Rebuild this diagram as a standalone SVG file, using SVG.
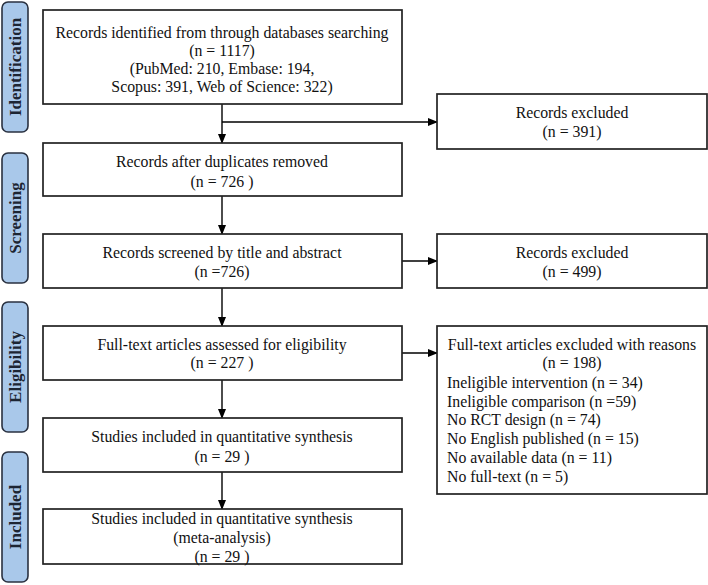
<svg xmlns="http://www.w3.org/2000/svg" width="708" height="585" viewBox="0 0 708 585">
<defs>
<marker id="ah" markerWidth="10" markerHeight="8" refX="9" refY="4" orient="auto" markerUnits="userSpaceOnUse">
<path d="M0,0 L10,4 L0,8 Z" fill="#000"/>
</marker>
<style>
.box{fill:#fff;stroke:#222;stroke-width:1.7}
.stage{fill:#a9c8ea;stroke:#2a3140;stroke-width:1.6}
.t{font-family:"Liberation Serif","Times New Roman",serif;font-size:15.8px;fill:#111}
.c{text-anchor:middle}
.st{font-family:"Liberation Serif","Times New Roman",serif;font-size:17px;font-weight:bold;fill:#1d2533;text-anchor:middle}
.ln{stroke:#000;stroke-width:1.4;fill:none}
</style>
</defs>
<rect width="708" height="585" fill="#fff"/>
<g id="stage-identification"><rect class="stage" x="2" y="2" width="26" height="130" rx="6"/><text class="st" transform="translate(21,67) rotate(-90)">Identification</text></g>
<g id="stage-screening"><rect class="stage" x="2" y="153" width="26" height="130" rx="6"/><text class="st" transform="translate(21,218) rotate(-90)">Screening</text></g>
<g id="stage-eligibility"><rect class="stage" x="2" y="302" width="26" height="130" rx="6"/><text class="st" transform="translate(21,367) rotate(-90)">Eligibility</text></g>
<g id="stage-included"><rect class="stage" x="2" y="452" width="26" height="130" rx="6"/><text class="st" transform="translate(21,517) rotate(-90)">Included</text></g>

<g id="connectors">
<line class="ln" x1="222" y1="104" x2="222" y2="143" marker-end="url(#ah)"/>
<line class="ln" x1="222" y1="122" x2="437" y2="122" marker-end="url(#ah)"/>
<line class="ln" x1="222" y1="196" x2="222" y2="234" marker-end="url(#ah)"/>
<line class="ln" x1="402" y1="261" x2="437" y2="261" marker-end="url(#ah)"/>
<line class="ln" x1="222" y1="288" x2="222" y2="326" marker-end="url(#ah)"/>
<line class="ln" x1="402" y1="353" x2="437" y2="353" marker-end="url(#ah)"/>
<line class="ln" x1="222" y1="380" x2="222" y2="418" marker-end="url(#ah)"/>
<line class="ln" x1="222" y1="472" x2="222" y2="509" marker-end="url(#ah)"/>
</g>

<g id="n-identified"><rect class="box" x="43" y="10" width="359" height="94"/>
<text class="t c" x="222" y="38">Records identified from through databases searching</text>
<text class="t c" x="222" y="56">(n = 1117)</text>
<text class="t c" x="222" y="74">(PubMed: 210, Embase: 194,</text>
<text class="t c" x="222" y="92">Scopus: 391, Web of Science: 322)</text></g>

<g id="n-excluded1"><rect class="box" x="437" y="94" width="270" height="55"/>
<text class="t c" x="572" y="118">Records excluded</text>
<text class="t c" x="572" y="137">(n = 391)</text></g>

<g id="n-duplicates"><rect class="box" x="43" y="143" width="359" height="53"/>
<text class="t c" x="222" y="167">Records after duplicates removed</text>
<text class="t c" x="222" y="187">(n = 726 )</text></g>

<g id="n-screened"><rect class="box" x="43" y="234" width="359" height="54"/>
<text class="t c" x="222" y="258">Records screened by title and abstract</text>
<text class="t c" x="222" y="277">(n =726)</text></g>

<g id="n-excluded2"><rect class="box" x="437" y="234" width="270" height="54"/>
<text class="t c" x="572" y="258">Records excluded</text>
<text class="t c" x="572" y="277">(n = 499)</text></g>

<g id="n-fulltext"><rect class="box" x="43" y="326" width="359" height="54"/>
<text class="t c" x="222" y="350">Full-text articles assessed for eligibility</text>
<text class="t c" x="222" y="368">(n = 227 )</text></g>

<g id="n-excluded3"><rect class="box" x="437" y="326" width="270" height="168"/>
<text class="t c" x="572" y="350">Full-text articles excluded with reasons</text>
<text class="t c" x="572" y="368">(n = 198)</text>
<text class="t" x="447" y="388">Ineligible intervention (n = 34)</text>
<text class="t" x="447" y="407">Ineligible comparison (n =59)</text>
<text class="t" x="447" y="425">No RCT design (n = 74)</text>
<text class="t" x="447" y="444">No English published (n = 15)</text>
<text class="t" x="447" y="463">No available data (n = 11)</text>
<text class="t" x="447" y="482">No full-text (n = 5)</text></g>

<g id="n-quant"><rect class="box" x="43" y="418" width="359" height="54"/>
<text class="t c" x="222" y="442">Studies included in quantitative synthesis</text>
<text class="t c" x="222" y="462">(n = 29 )</text></g>

<g id="n-meta"><rect class="box" x="43" y="509" width="359" height="55"/>
<text class="t c" x="222" y="524">Studies included in quantitative synthesis</text>
<text class="t c" x="222" y="543">(meta-analysis)</text>
<text class="t c" x="222" y="562">(n = 29 )</text></g>
</svg>
